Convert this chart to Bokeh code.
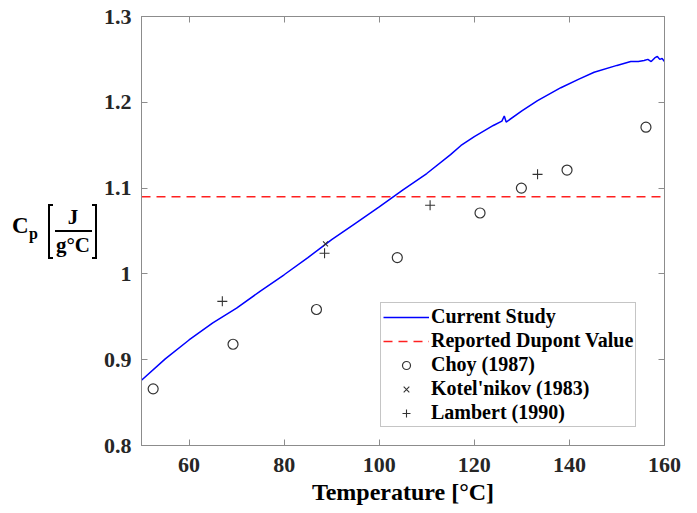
from bokeh.plotting import figure
from bokeh.models import (LinearAxis, FixedTicker, Legend, LegendItem, Range1d, Div)
from bokeh.layouts import row
from bokeh.embed import file_html
from bokeh.resources import INLINE

# ---- data ----
study_T = [50, 55, 60, 65, 70, 75, 80, 85, 90, 95, 100, 105, 110, 115, 117.2, 120,
           124, 125.8, 126.3, 126.7, 130, 133.3, 138.2, 142, 145.2, 150, 152.9,
           154.5, 155.7, 156.5, 157.2, 158, 158.5, 159, 159.5, 160]
study_cp = [0.876, 0.901, 0.923, 0.943, 0.960, 0.980, 0.999, 1.019, 1.040, 1.059,
            1.078, 1.098, 1.117, 1.139, 1.1497, 1.160, 1.173, 1.178, 1.184, 1.177,
            1.190, 1.202, 1.217, 1.227, 1.235, 1.243, 1.2476, 1.2475, 1.2487, 1.250,
            1.2475, 1.252, 1.2534, 1.250, 1.251, 1.2476]
dupont_cp = 1.09
choy_T = [52.45, 69.25, 86.8, 103.8, 121.2, 129.9, 139.5, 156.1]
choy_cp = [0.866, 0.918, 0.9585, 1.019, 1.071, 1.10, 1.121, 1.171]
kotel_T = [88.7]
kotel_cp = [1.035]
lambert_T = [67.0, 88.5, 110.7, 133.3]
lambert_cp = [0.968, 1.024, 1.080, 1.116]
x_ticks = [60, 80, 100, 120, 140, 160]
y_ticks = [0.8, 0.9, 1.0, 1.1, 1.2, 1.3]
y_tick_labels = ["0.8", "0.9", "1", "1.1", "1.2", "1.3"]
X_MIN, X_MAX = 50, 160
Y_MIN, Y_MAX = 0.8, 1.3

W, H = 697, 513
LBL_W = 100                      # width of the y-label panel
FL, FT, FR, FB = 140, 16, 664, 445   # frame edges in page pixels
FONT = "Liberation Serif"
AX_COL = "#8c8c8c"
TXT_COL = "#262626"

p = figure(width=W - LBL_W, height=H, output_backend="svg", toolbar_location=None,
           x_range=Range1d(X_MIN, X_MAX), y_range=Range1d(Y_MIN, Y_MAX),
           min_border_left=FL - LBL_W, min_border_top=FT, min_border_right=W - FR,
           min_border_bottom=H - FB, margin=(0, 0, 0, 0))
p.xgrid.visible = False
p.ygrid.visible = False
p.outline_line_color = AX_COL
p.outline_line_width = 1
p.background_fill_color = "white"
p.border_fill_color = "white"

for ax in (p.xaxis[0], p.yaxis[0]):
    ax.axis_line_color = AX_COL
    ax.major_tick_line_color = AX_COL
    ax.major_tick_in = 6
    ax.major_tick_out = 0
    ax.minor_tick_line_color = None
    ax.major_label_text_font = FONT
    ax.major_label_text_font_style = "bold"
    ax.major_label_text_font_size = "22px"
    ax.major_label_text_color = TXT_COL

p.xaxis[0].ticker = FixedTicker(ticks=x_ticks)
p.xaxis[0].major_label_standoff = 12
p.xaxis[0].axis_label = "Temperature [°C]"
p.xaxis[0].axis_label_text_font = FONT
p.xaxis[0].axis_label_text_font_style = "bold"
p.xaxis[0].axis_label_text_font_size = "24px"
p.xaxis[0].axis_label_text_color = "black"
p.xaxis[0].axis_label_standoff = 4

p.yaxis[0].ticker = FixedTicker(ticks=y_ticks)
p.yaxis[0].major_label_overrides = {t: s for t, s in zip(y_ticks, y_tick_labels)}
p.yaxis[0].major_label_standoff = 10

top = LinearAxis(ticker=FixedTicker(ticks=x_ticks), major_label_text_font_size="0px",
                 axis_line_color=AX_COL, major_tick_line_color=AX_COL,
                 major_tick_in=6, major_tick_out=0, minor_tick_line_color=None)
right = LinearAxis(ticker=FixedTicker(ticks=y_ticks), major_label_text_font_size="0px",
                   axis_line_color=AX_COL, major_tick_line_color=AX_COL,
                   major_tick_in=6, major_tick_out=0, minor_tick_line_color=None)
top.major_label_text_color = None
right.major_label_text_color = None
p.add_layout(top, "above")
p.add_layout(right, "right")

r_study = p.line(study_T, study_cp, line_color="#0000ff", line_width=1.5)
r_dup = p.line([X_MIN, X_MAX], [dupont_cp, dupont_cp], line_color="#ff2020",
               line_width=1.6, line_dash="9 6")
r_choy = p.scatter(choy_T, choy_cp, marker="circle", size=10, fill_color=None,
                   line_color="#333333", line_width=1.2)
r_kot = p.scatter(kotel_T, kotel_cp, marker="x", size=7, line_color="#333333", line_width=1.1)
r_lam = p.scatter(lambert_T, lambert_cp, marker="cross", size=10, line_color="#333333",
                  line_width=1.1)

legend = Legend(items=[
    LegendItem(label="Current Study", renderers=[r_study]),
    LegendItem(label="Reported Dupont Value", renderers=[r_dup]),
    LegendItem(label="Choy (1987)", renderers=[r_choy]),
    LegendItem(label="Kotel'nikov (1983)", renderers=[r_kot]),
    LegendItem(label="Lambert (1990)", renderers=[r_lam]),
], location=(239, 18))
legend.label_text_font = FONT
legend.label_text_font_style = "bold"
legend.label_text_font_size = "20px"
legend.label_text_color = "black"
legend.glyph_width = 46
legend.glyph_height = 20
legend.label_height = 20
legend.label_standoff = 2
legend.spacing = 1
legend.padding = 2
legend.margin = 0
legend.border_line_color = AX_COL
legend.border_line_width = 1
legend.background_fill_alpha = 1
p.add_layout(legend, "center")

# ---- y-axis label panel: C_p [ J / g°C ] ----
def piece(html, left, top, size, extra=""):
    return (f'<div style="position:absolute;left:{left}px;top:{top}px;font-size:{size}px;'
            f'line-height:{size}px;white-space:nowrap;{extra}">{html}</div>')

parts = [
    piece("C", 12, 214, 23),
    piece("p", 29, 226, 16),
    piece("J", 52, 207, 21, "width:42px;text-align:center;"),
    piece("g°C", 52, 235, 21, "width:42px;text-align:center;"),
    '<div style="position:absolute;left:55px;top:230px;width:37px;height:0;'
    'border-top:2px solid black;"></div>',
    '<div style="position:absolute;left:48px;top:204px;width:5px;height:55px;'
    'border:2px solid black;border-right:none;"></div>',
    '<div style="position:absolute;left:92px;top:204px;width:5px;height:55px;'
    'border:2px solid black;border-left:none;"></div>',
]
label_html = (f'<div style="position:relative;width:{LBL_W}px;height:{H}px;'
              f"font-family:'{FONT}';font-weight:bold;color:black;\">" + "".join(parts) + "</div>")
ylab = Div(text=label_html, width=LBL_W, height=H, margin=(0, 0, 0, 0),
           styles={"background-color": "white"})

layout = row(ylab, p, spacing=0)
open("out.html", "w").write(file_html(layout, INLINE))
